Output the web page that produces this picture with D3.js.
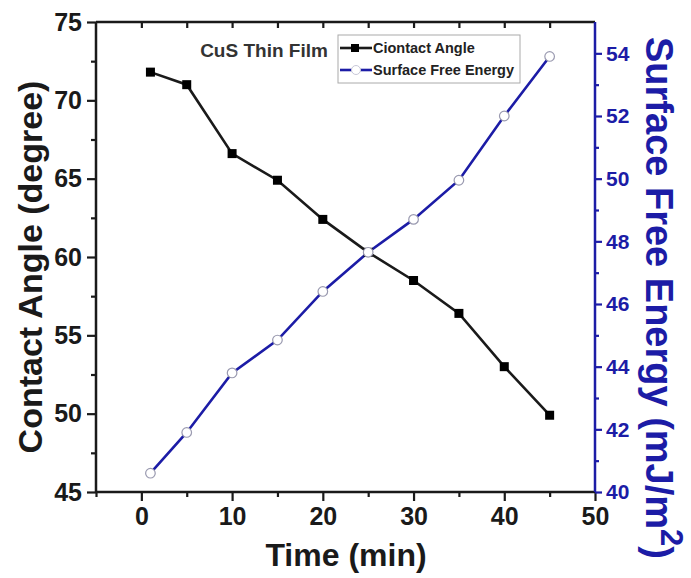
<!DOCTYPE html>
<html><head><meta charset="utf-8">
<script src="https://cdn.jsdelivr.net/npm/d3@7/dist/d3.min.js"></script>
<style>body{margin:0;background:#fff}svg{display:block}text{font-family:"Liberation Sans",Arial,sans-serif;font-weight:bold}</style>
</head><body>
<svg id="c" width="691" height="578"></svg>
<script>
const times = [1, 5, 10, 15, 20, 25, 30, 35, 40, 45];
const contactAngle = [71.8, 71.0, 66.6, 64.9, 62.4, 60.3, 58.5, 56.4, 53.0, 49.9];
const surfaceEnergy = [40.6, 41.9, 43.8, 44.85, 46.4, 47.65, 48.7, 49.95, 52.0, 53.9];
const xTicks = [0, 10, 20, 30, 40, 50];
const yLeftTicks = [45, 50, 55, 60, 65, 70, 75];
const yRightTicks = [40, 42, 44, 46, 48, 50, 52, 54];
const seriesNames = ["Ciontact Angle", "Surface Free Energy"];

const L = 96, R = 595, T = 22, B = 492;
const blue = "#1c1ca6", ink = "#1a1a1a";
const svg = d3.select("#c");
const x = d3.scaleLinear().domain([-5, 50]).range([L, R]);
const yL = d3.scaleLinear().domain([45, 75]).range([B, T]);
const yR = d3.scaleLinear().domain([40, 55]).range([B, T]);

const xMinor = d3.range(-5, 51, 5).filter(v => v % 10 !== 0);
const yLMinor = d3.range(47.5, 75, 5);
const yRMinor = d3.range(41, 55, 2);

function styleAxis(g, color, size) {
  g.select(".domain").remove();
  g.selectAll("line").attr("stroke", color).attr("stroke-width", 2.2);
  g.selectAll("text").attr("fill", color).style("font-size", size + "px");
}

svg.append("g").attr("transform", `translate(0,${B})`)
  .call(d3.axisBottom(x).tickValues(xTicks).tickSize(9).tickPadding(6).tickFormat(d3.format("d")))
  .call(g => styleAxis(g, ink, 25));
svg.append("g").attr("transform", `translate(0,${B})`)
  .call(d3.axisBottom(x).tickValues(xMinor).tickSize(5).tickFormat(""))
  .call(g => styleAxis(g, ink, 10));
svg.append("g").attr("transform", `translate(0,${T})`)
  .call(d3.axisBottom(x).tickValues(xTicks.concat(xMinor).filter(v => v > -5 && v < 50)).tickSize(6).tickFormat(""))
  .call(g => styleAxis(g, ink, 10));
svg.append("g").attr("transform", `translate(${L},0)`)
  .call(d3.axisLeft(yL).tickValues(yLeftTicks).tickSize(9).tickPadding(5).tickFormat(d3.format("d")))
  .call(g => styleAxis(g, ink, 25));
svg.append("g").attr("transform", `translate(${L},0)`)
  .call(d3.axisLeft(yL).tickValues(yLMinor).tickSize(5).tickFormat(""))
  .call(g => styleAxis(g, ink, 10));
svg.append("g").attr("transform", `translate(${R},0)`)
  .call(d3.axisRight(yR).tickValues(yRightTicks).tickSize(7).tickPadding(4).tickFormat(d3.format("d")))
  .call(g => styleAxis(g, blue, 21));
svg.append("g").attr("transform", `translate(${R},0)`)
  .call(d3.axisRight(yR).tickValues(yRMinor).tickSize(4).tickFormat(""))
  .call(g => styleAxis(g, blue, 10));

svg.append("line").attr("x1", L).attr("x2", R).attr("y1", T).attr("y2", T).attr("stroke", ink).attr("stroke-width", 2.5);
svg.append("line").attr("x1", L).attr("x2", R).attr("y1", B).attr("y2", B).attr("stroke", ink).attr("stroke-width", 2.5);
svg.append("line").attr("x1", L).attr("x2", L).attr("y1", T).attr("y2", B).attr("stroke", ink).attr("stroke-width", 2.5);
svg.append("line").attr("x1", R).attr("x2", R).attr("y1", T).attr("y2", B).attr("stroke", blue).attr("stroke-width", 2.5);

const dA = times.map((t, i) => [t, contactAngle[i]]);
const dE = times.map((t, i) => [t, surfaceEnergy[i]]);
svg.append("path").datum(dA).attr("fill", "none").attr("stroke", ink).attr("stroke-width", 2.6)
  .attr("d", d3.line().x(d => x(d[0])).y(d => yL(d[1])));
svg.append("path").datum(dE).attr("fill", "none").attr("stroke", blue).attr("stroke-width", 2.6)
  .attr("d", d3.line().x(d => x(d[0])).y(d => yR(d[1])));
svg.selectAll(".sq").data(dA).enter().append("rect")
  .attr("x", d => x(d[0]) - 4.5).attr("y", d => yL(d[1]) - 4.5).attr("width", 9).attr("height", 9).attr("fill", "#000");
svg.selectAll(".ci").data(dE).enter().append("circle")
  .attr("cx", d => x(d[0])).attr("cy", d => yR(d[1])).attr("r", 4.8)
  .attr("fill", "#fff").attr("stroke", "#9a9ab0").attr("stroke-width", 1.2);

svg.append("text").attr("x", 264).attr("y", 57).attr("text-anchor", "middle").attr("fill", "#333").style("font-size", "19px").text("CuS Thin Film");

const lg = svg.append("g");
lg.append("rect").attr("x", 338).attr("y", 35).attr("width", 182).attr("height", 48).attr("fill", "#fff").attr("stroke", "#aaa").attr("stroke-width", 1);
const ly = [48, 70];
lg.append("line").attr("x1", 340).attr("x2", 372).attr("y1", ly[0]).attr("y2", ly[0]).attr("stroke", ink).attr("stroke-width", 2.6);
lg.append("rect").attr("x", 351).attr("y", ly[0] - 4).attr("width", 8).attr("height", 8).attr("fill", "#000");
lg.append("line").attr("x1", 340).attr("x2", 372).attr("y1", ly[1]).attr("y2", ly[1]).attr("stroke", blue).attr("stroke-width", 2.6);
lg.append("circle").attr("cx", 356).attr("cy", ly[1]).attr("r", 4.5).attr("fill", "#fff").attr("stroke", "#c8c8d8").attr("stroke-width", 1);
seriesNames.forEach((n, i) => {
  lg.append("text").attr("x", 373).attr("y", ly[i] + 5).attr("fill", "#222").style("font-size", "14.5px").text(n);
});

svg.append("text").attr("x", 346).attr("y", 566).attr("text-anchor", "middle").attr("fill", ink).style("font-size", "32px").text("Time (min)");
svg.append("text").attr("transform", "translate(42,267) rotate(-90)").attr("text-anchor", "middle").attr("fill", ink).style("font-size", "34px").text("Contact Angle (degree)");
const rt = svg.append("text").attr("transform", "translate(646,298) rotate(90)").attr("text-anchor", "middle").attr("fill", blue).style("font-size", "38px");
rt.append("tspan").text("Surface Free Energy (mJ/m");
rt.append("tspan").attr("dy", -15).style("font-size", "31px").text("2");
rt.append("tspan").attr("dy", 15).text(")");
</script>
</body></html>
